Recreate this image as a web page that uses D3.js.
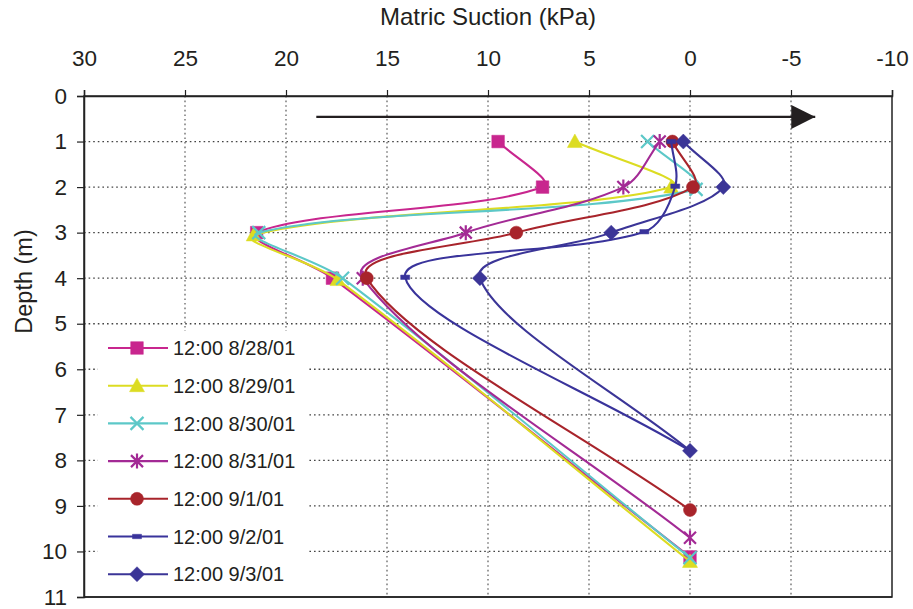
<!DOCTYPE html>
<html>
<head>
<meta charset="utf-8">
<script src="https://cdn.jsdelivr.net/npm/d3@7/dist/d3.min.js"></script>
<style>
  html, body { margin: 0; padding: 0; background: #fff; }
  svg { display: block; font-family: "Liberation Sans", Arial, sans-serif; }
</style>
</head>
<body>
<svg id="chart" width="913" height="609"></svg>
<script>
// Matric suction profiles (kPa) at the sensor depths (m), one series per day at noon
const seriesNames = ["12:00 8/28/01", "12:00 8/29/01", "12:00 8/30/01", "12:00 8/31/01",
                     "12:00 9/1/01", "12:00 9/2/01", "12:00 9/3/01"];
const seriesColors = ["#c8268e", "#dcdc22", "#5cc8c8", "#a32a95", "#a8242b", "#39339b", "#3b3597"];
const seriesMarkers = ["square", "triangle", "x", "asterisk", "circle", "dash", "diamond"];

const depth0828 = [1, 2, 3, 4, 10.12];
const suction0828 = [9.5, 7.3, 21.45, 17.7, 0];
const depth0829 = [1, 2, 3.05, 4.03, 10.22];
const suction0829 = [5.7, 0.93, 21.6, 17.45, 0];
const depth0830 = [1, 2.05, 3, 4, 10.14];
const suction0830 = [2.1, -0.3, 21.35, 17.2, 0];
const depth0831 = [1, 2, 3, 4, 9.7];
const suction0831 = [1.5, 3.3, 11.1, 16.2, 0];
const depth0901 = [1, 2, 3, 4, 9.09];
const suction0901 = [0.87, -0.15, 8.6, 16.0, 0];
const depth0902 = [1, 1.98, 2.98, 3.98, 7.79];
const suction0902 = [0.93, 0.73, 2.26, 14.1, 0];
const depth0903 = [1, 2, 3, 4, 7.79];
const suction0903 = [0.33, -1.65, 3.9, 10.4, 0];

const seriesDepths = [depth0828, depth0829, depth0830, depth0831, depth0901, depth0902, depth0903];
const seriesSuctions = [suction0828, suction0829, suction0830, suction0831, suction0901, suction0902, suction0903];

const suctionTicks = [30, 25, 20, 15, 10, 5, 0, -5, -10];
const depthTicks = [0, 1, 2, 3, 4, 5, 6, 7, 8, 9, 10, 11];

// drying trend arrow, in data units (suction from, suction to, depth)
const arrowFrom = 18.5, arrowTo = -6.2, arrowDepth = 0.46;

const svg = d3.select("#chart");
const x = d3.scaleLinear().domain([30, -10]).range([84, 892]);
const y = d3.scaleLinear().domain([0, 11]).range([96, 597]);
const textColor = "#231f20";

// grid
const grid = svg.append("g");
grid.selectAll("line.v").data(suctionTicks.slice(1, -1)).join("line")
  .attr("x1", d => x(d)).attr("x2", d => x(d)).attr("y1", y(0)).attr("y2", y(11))
  .attr("stroke", "#666").attr("stroke-width", 1.3).attr("stroke-dasharray", "1.6,3");
grid.selectAll("line.h").data(depthTicks.slice(1, -1)).join("line")
  .attr("x1", x(30)).attr("x2", x(-10)).attr("y1", d => y(d)).attr("y2", d => y(d))
  .attr("stroke", "#444").attr("stroke-width", 1.3).attr("stroke-dasharray", "1.6,3");

// frame
svg.append("rect").attr("x", x(30)).attr("y", y(0)).attr("width", x(-10) - x(30)).attr("height", y(11) - y(0))
  .attr("fill", "none").attr("stroke", "#222").attr("stroke-width", 1.5);

// axes
const topAxis = d3.axisTop(x).tickValues(suctionTicks).tickSize(6).tickPadding(24)
  .tickFormat(d => String(d));
const gTop = svg.append("g").attr("transform", `translate(0,${y(0)})`).call(topAxis);
const leftAxis = d3.axisLeft(y).tickValues(depthTicks).tickSize(7).tickPadding(10);
const gLeft = svg.append("g").attr("transform", `translate(${x(30)},0)`).call(leftAxis);
[gTop, gLeft].forEach(g => {
  g.select(".domain").attr("stroke", "#222").attr("stroke-width", 1.5);
  g.selectAll(".tick line").attr("stroke", "#222").attr("stroke-width", 1.2);
  g.selectAll(".tick text").attr("fill", textColor).attr("font-size", 22.5)
    .attr("font-family", "'Liberation Sans', Arial, sans-serif");
});

svg.append("text").attr("x", x(10)).attr("y", 25).attr("text-anchor", "middle")
  .attr("fill", textColor).attr("font-size", 24).text("Matric Suction (kPa)");
svg.append("text").attr("transform", "translate(32,281.5) rotate(-90)").attr("text-anchor", "middle")
  .attr("fill", textColor).attr("font-size", 23.5).text("Depth (m)");

// arrow
svg.append("defs").append("marker").attr("id", "head").attr("viewBox", "0 0 10 10")
  .attr("refX", 10).attr("refY", 5).attr("markerUnits", "userSpaceOnUse")
  .attr("markerWidth", 24).attr("markerHeight", 24).attr("orient", "auto")
  .append("path").attr("d", "M0,0L10,5L0,10Z").attr("fill", "#231f20");
svg.append("line").attr("x1", x(arrowFrom)).attr("x2", x(arrowTo))
  .attr("y1", y(arrowDepth)).attr("y2", y(arrowDepth))
  .attr("stroke", "#231f20").attr("stroke-width", 2.2).attr("marker-end", "url(#head)");

// smoothed line: cubic segments whose tangents are split by neighbouring segment lengths
function curveSmooth(context) {
  let pts;
  return {
    areaStart() {}, areaEnd() {},
    lineStart() { pts = []; },
    point(px, py) { pts.push([+px, +py]); },
    lineEnd() {
      const n = pts.length;
      if (!n) return;
      context.moveTo(pts[0][0], pts[0][1]);
      const dist = (a, b) => Math.hypot(b[0] - a[0], b[1] - a[1]);
      const c = pts.map((p, i) => {
        const prev = pts[Math.max(i - 1, 0)], next = pts[Math.min(i + 1, n - 1)];
        const tx = next[0] - prev[0], ty = next[1] - prev[1];
        const d0 = dist(prev, p), d1 = dist(p, next), s = (d0 + d1) || 1;
        return { ix: p[0] - tx * d0 / s / 3, iy: p[1] - ty * d0 / s / 3,
                 ox: p[0] + tx * d1 / s / 3, oy: p[1] + ty * d1 / s / 3 };
      });
      for (let i = 0; i < n - 1; i++) {
        context.bezierCurveTo(c[i].ox, c[i].oy, c[i + 1].ix, c[i + 1].iy, pts[i + 1][0], pts[i + 1][1]);
      }
    }
  };
}

function markerPath(type) {
  switch (type) {
    case "square": return "M-6.3,-6.3H6.3V6.3H-6.3Z";
    case "triangle": return "M0,-7.5L7.5,6L-7.5,6Z";
    case "x": return "M-6.5,-6.5L6.5,6.5M-6.5,6.5L6.5,-6.5";
    case "asterisk": return "M-6,-6L6,6M-6,6L6,-6M0,-7.5V7.5";
    case "circle": return "M6.5,0A6.5,6.5 0 1,1 -6.5,0A6.5,6.5 0 1,1 6.5,0Z";
    case "dash": return "M-4.5,-2.2H4.5V2.2H-4.5Z";
    case "diamond": return "M0,-7.5L7.5,0L0,7.5L-7.5,0Z";
  }
}
const isStroke = t => t === "x" || t === "asterisk";
function drawMarker(g, type, color, cx, cy) {
  g.append("path").attr("d", markerPath(type)).attr("transform", `translate(${cx},${cy})`)
    .attr("fill", isStroke(type) ? "none" : color)
    .attr("stroke", color).attr("stroke-width", isStroke(type) ? 2.2 : 0.5);
}

const line = d3.line().x(d => x(d[1])).y(d => y(d[0])).curve(curveSmooth);
const plot = svg.append("g");
seriesNames.forEach((name, k) => {
  const pts = seriesDepths[k].map((dp, i) => [dp, seriesSuctions[k][i]]);
  const g = plot.append("g");
  g.append("path").datum(pts).attr("d", line).attr("fill", "none")
    .attr("stroke", seriesColors[k]).attr("stroke-width", 2.1);
  pts.forEach(p => drawMarker(g, seriesMarkers[k], seriesColors[k], x(p[1]), y(p[0])));
});

// legend
const legend = svg.append("g");
legend.append("rect").attr("x", 98).attr("y", 331).attr("width", 210).attr("height", 264).attr("fill", "#fff");
seriesNames.forEach((name, k) => {
  const ly = 348 + k * 37.7;
  legend.append("line").attr("x1", 108).attr("x2", 168).attr("y1", ly).attr("y2", ly)
    .attr("stroke", seriesColors[k]).attr("stroke-width", 2.1);
  drawMarker(legend, seriesMarkers[k], seriesColors[k], 137, ly);
  legend.append("text").attr("x", 173).attr("y", ly).attr("dy", "0.36em")
    .attr("fill", textColor).attr("font-size", 20).text(name);
});
// redraw bottom frame edge over the legend box
svg.append("line").attr("x1", x(30)).attr("x2", x(-10)).attr("y1", y(11)).attr("y2", y(11))
  .attr("stroke", "#222").attr("stroke-width", 1.5);
</script>
</body>
</html>
